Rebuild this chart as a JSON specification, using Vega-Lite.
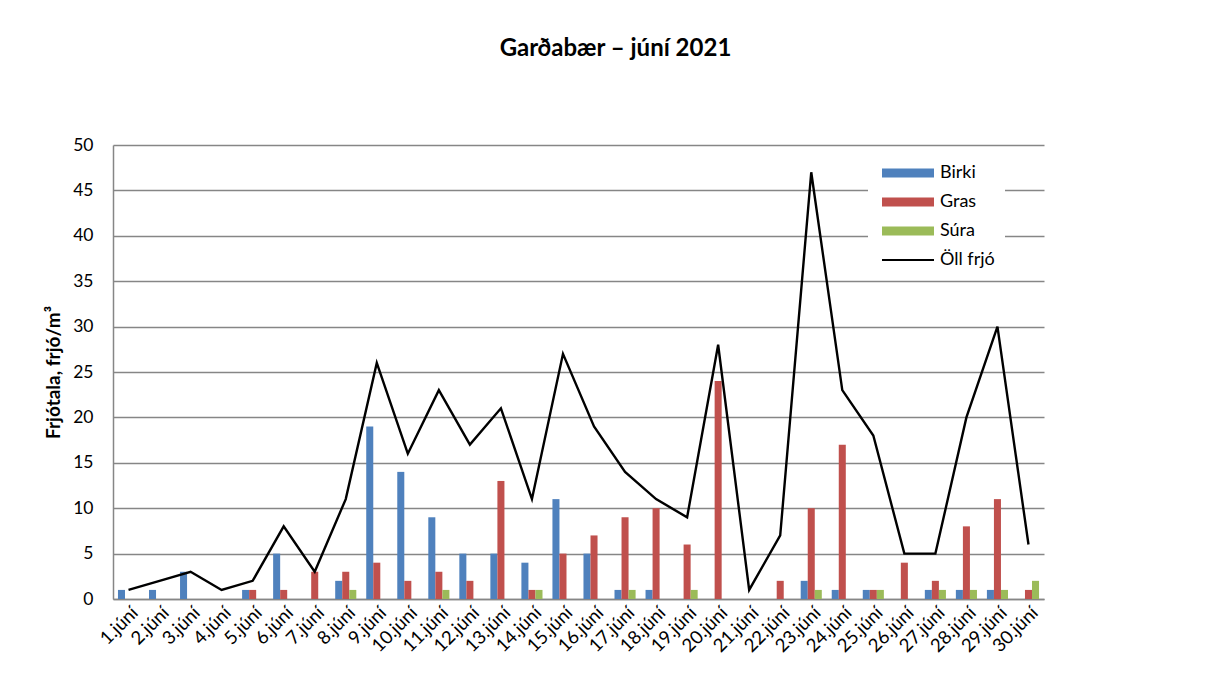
{
  "$schema": "https://vega.github.io/schema/vega-lite/v6.json",
  "width": 931,
  "height": 454,
  "autosize": {"type": "none"},
  "padding": {"left": 113, "top": 145, "right": 171, "bottom": 98},
  "background": "white",
  "config": {"font": "Lato", "view": {"stroke": null}},
  "title": {"text": "Garðabær – júní 2021", "fontSize": 24, "fontWeight": "bold", "font": "Lato", "color": "#000000", "anchor": "middle", "frame": "group", "dx": 37, "offset": 75},
  "data": {"values": [
    {"day": "1.júní", "Birki": 1, "Gras": 0, "Súra": 0, "total": 1},
    {"day": "2.júní", "Birki": 1, "Gras": 0, "Súra": 0, "total": 2},
    {"day": "3.júní", "Birki": 3, "Gras": 0, "Súra": 0, "total": 3},
    {"day": "4.júní", "Birki": 0, "Gras": 0, "Súra": 0, "total": 1},
    {"day": "5.júní", "Birki": 1, "Gras": 1, "Súra": 0, "total": 2},
    {"day": "6.júní", "Birki": 5, "Gras": 1, "Súra": 0, "total": 8},
    {"day": "7.júní", "Birki": 0, "Gras": 3, "Súra": 0, "total": 3},
    {"day": "8.júní", "Birki": 2, "Gras": 3, "Súra": 1, "total": 11},
    {"day": "9.júní", "Birki": 19, "Gras": 4, "Súra": 0, "total": 26},
    {"day": "10.júní", "Birki": 14, "Gras": 2, "Súra": 0, "total": 16},
    {"day": "11.júní", "Birki": 9, "Gras": 3, "Súra": 1, "total": 23},
    {"day": "12.júní", "Birki": 5, "Gras": 2, "Súra": 0, "total": 17},
    {"day": "13.júní", "Birki": 5, "Gras": 13, "Súra": 0, "total": 21},
    {"day": "14.júní", "Birki": 4, "Gras": 1, "Súra": 1, "total": 11},
    {"day": "15.júní", "Birki": 11, "Gras": 5, "Súra": 0, "total": 27},
    {"day": "16.júní", "Birki": 5, "Gras": 7, "Súra": 0, "total": 19},
    {"day": "17.júní", "Birki": 1, "Gras": 9, "Súra": 1, "total": 14},
    {"day": "18.júní", "Birki": 1, "Gras": 10, "Súra": 0, "total": 11},
    {"day": "19.júní", "Birki": 0, "Gras": 6, "Súra": 1, "total": 9},
    {"day": "20.júní", "Birki": 0, "Gras": 24, "Súra": 0, "total": 28},
    {"day": "21.júní", "Birki": 0, "Gras": 0, "Súra": 0, "total": 1},
    {"day": "22.júní", "Birki": 0, "Gras": 2, "Súra": 0, "total": 7},
    {"day": "23.júní", "Birki": 2, "Gras": 10, "Súra": 1, "total": 47},
    {"day": "24.júní", "Birki": 1, "Gras": 17, "Súra": 0, "total": 23},
    {"day": "25.júní", "Birki": 1, "Gras": 1, "Súra": 1, "total": 18},
    {"day": "26.júní", "Birki": 0, "Gras": 4, "Súra": 0, "total": 5},
    {"day": "27.júní", "Birki": 1, "Gras": 2, "Súra": 1, "total": 5},
    {"day": "28.júní", "Birki": 1, "Gras": 8, "Súra": 1, "total": 20},
    {"day": "29.júní", "Birki": 1, "Gras": 11, "Súra": 1, "total": 30},
    {"day": "30.júní", "Birki": 0, "Gras": 1, "Súra": 2, "total": 6}
  ]},
  "layer": [
    {
      "transform": [{"fold": ["Birki", "Gras", "Súra"], "as": ["type", "value"]}],
      "mark": {"type": "bar"},
      "encoding": {
        "x": {"field": "day", "type": "ordinal", "sort": null, "title": null,
          "scale": {"paddingInner": 0.32, "paddingOuter": 0.16},
          "axis": {"labelAngle": -45, "labelFontSize": 18.5, "labelColor": "#000000", "ticks": false, "labelPadding": 4, "domainColor": "#868686", "domainWidth": 1.5, "grid": false}},
        "xOffset": {"field": "type", "type": "nominal", "sort": ["Birki", "Gras", "Súra"], "scale": {"paddingInner": 0, "paddingOuter": 0}},
        "y": {"field": "value", "type": "quantitative", "title": "Frjótala, frjó/m³",
          "scale": {"domain": [0, 50]},
          "axis": {"values": [0, 5, 10, 15, 20, 25, 30, 35, 40, 45, 50], "grid": true, "gridColor": "#868686", "gridWidth": 1.5, "domainColor": "#868686", "domainWidth": 1.5, "ticks": false, "labelPadding": 20, "labelFontSize": 17.5, "labelColor": "#000000", "titleFontSize": 19, "titleFontWeight": "bold", "titleColor": "#000000", "titlePadding": 9}},
        "color": {"field": "type", "type": "nominal",
          "scale": {"domain": ["Birki", "Gras", "Súra", "Öll frjó"], "range": ["#4F81BD", "#C0504D", "#9BBB59", "#000000"]},
          "legend": {"title": null, "orient": "none", "legendX": 755, "legendY": 9, "direction": "vertical", "fillColor": "white", "padding": 10,
            "symbolSize": 100, "symbolType": "M-1,-0.9H9.4V0.9H-1Z", "symbolStrokeWidth": 0, "labelFontSize": 18, "labelColor": "#000000", "labelOffset": 44, "rowPadding": 11,
            "encode": {"symbols": {"update": {"shape": {"signal": "datum.value === 'Öll frjó' ? 'M-1,-0.2H9.4V0.2H-1Z' : 'M-1,-0.9H9.4V0.9H-1Z'"}}}}}}
      }
    },
    {
      "mark": {"type": "line", "strokeWidth": 2.4},
      "encoding": {
        "x": {"field": "day", "type": "ordinal", "sort": null},
        "y": {"field": "total", "type": "quantitative"},
        "color": {"datum": "Öll frjó"}
      }
    }
  ]
}
